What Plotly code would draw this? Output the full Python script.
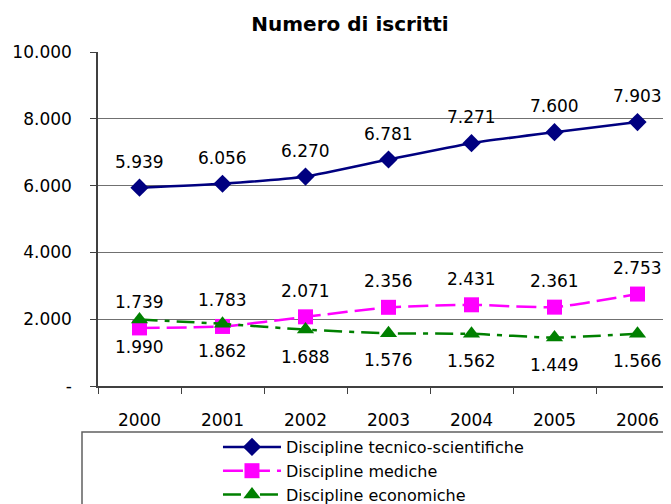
import plotly.graph_objects as go

anni = ['2000', '2001', '2002', '2003', '2004', '2005', '2006']
tecnico_scientifiche = [5939, 6056, 6270, 6781, 7271, 7600, 7903]
mediche = [1739, 1783, 2071, 2356, 2431, 2361, 2753]
economiche = [1990, 1862, 1688, 1576, 1562, 1449, 1566]

y_ticks = [0, 2000, 4000, 6000, 8000, 10000]
y_tick_labels = ['-', '2.000', '4.000', '6.000', '8.000', '10.000']


def fmt(v):
    # separatore delle migliaia all'italiana
    return f'{v:,}'.replace(',', '.')


FONT = 'DejaVu Sans'

fig = go.Figure()
fig.add_trace(go.Scatter(
    x=anni, y=tecnico_scientifiche, name='Discipline tecnico-scientifiche',
    mode='lines+markers',
    line=dict(color='#000080', width=2.5, shape='spline', smoothing=0.5),
    marker=dict(symbol='diamond', size=14, color='#000080')))
fig.add_trace(go.Scatter(
    x=anni, y=mediche, name='Discipline mediche',
    mode='lines+markers',
    line=dict(color='#FF00FF', width=2.5, dash='20px,7px', shape='spline', smoothing=0.5),
    marker=dict(symbol='square', size=15, color='#FF00FF')))
fig.add_trace(go.Scatter(
    x=anni, y=economiche, name='Discipline economiche',
    mode='lines+markers',
    line=dict(color='#008000', width=2.5, dash='18px,7px,5px,7px', shape='spline', smoothing=0.5),
    marker=dict(symbol='triangle-up', size=15, color='#008000')))

# etichette dei valori: sopra per le prime due serie, sotto per la terza
# (x come indice di categoria, altrimenti '2000' viene letto come numero)
etichette = []
for serie, spost in [(tecnico_scientifiche, 26), (mediche, 26), (economiche, -27)]:
    for i, v in enumerate(serie):
        etichette.append(dict(x=i, y=v, xref='x', yref='y', text=fmt(v), showarrow=False,
                              yshift=spost, font=dict(family=FONT, size=17, color='black')))

fig.update_layout(
    width=671, height=504,
    margin=dict(l=90, r=0, t=44, b=126),
    paper_bgcolor='white', plot_bgcolor='white',
    font=dict(family=FONT, size=17, color='black'),
    title=dict(text='<b>Numero di iscritti</b>', x=342 / 671, xanchor='center',
               y=1 - 16 / 504, yanchor='middle', font=dict(family=FONT, size=20)),
    showlegend=True,
    legend=dict(x=0.2065, xanchor='left', y=1 - 422 / 504, yanchor='top', yref='container',
                bgcolor='rgba(0,0,0,0)', borderwidth=0, itemwidth=58,
                tracegroupgap=0, font=dict(family=FONT, size=16)),
    annotations=etichette,
    shapes=[dict(type='rect', xref='paper', yref='paper',
                 x0=(82 - 98) / 581, x1=1.2, y0=-0.8, y1=(386 - 432) / 334,
                 line=dict(color='#606060', width=1.5), fillcolor='rgba(0,0,0,0)')],
)

fig.update_xaxes(type='category', range=[-0.5, 6.5], showline=True, linecolor='#404040',
                 linewidth=1.5, ticks='outside', tickson='boundaries', ticklen=6,
                 tickcolor='#404040', showgrid=False, ticklabelstandoff=18)
fig.update_yaxes(range=[0, 10000], tickvals=y_ticks, ticktext=y_tick_labels,
                 showline=True, linecolor='#404040', linewidth=1.5, ticks='outside',
                 ticklen=6, tickcolor='#404040', showgrid=True, gridcolor='#707070',
                 gridwidth=1, zeroline=False, ticklabelstandoff=15)

fig.write_html("out.html")
